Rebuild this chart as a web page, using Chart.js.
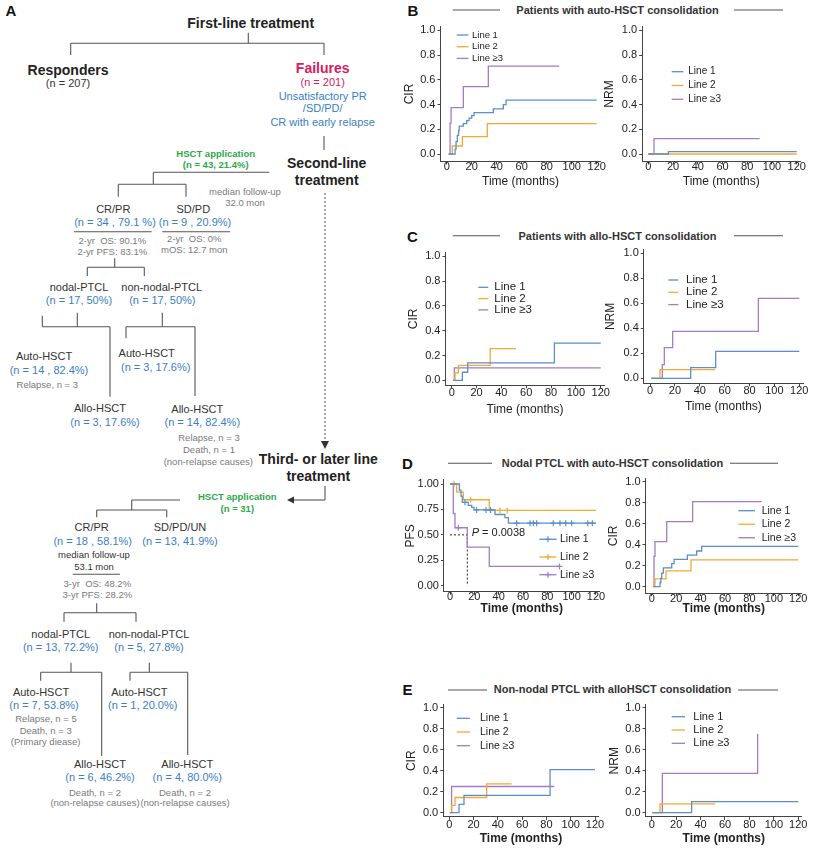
<!DOCTYPE html>
<html>
<head>
<meta charset="utf-8">
<script src="https://cdn.jsdelivr.net/npm/chart.js@4.4.1/dist/chart.umd.min.js"></script>
<style>
  body { margin: 0; background: #fff; font-family: "Liberation Sans", Arial, sans-serif; }
  #page { position: relative; width: 816px; height: 852px; overflow: hidden; background: #fff; }
  #page canvas, #page svg { position: absolute; }
  .t { position: absolute; transform: translate(-50%, -50%); white-space: pre; line-height: 1; }
  .h { font-size: 14px; font-weight: bold; color: #222; }
  .m { font-size: 11px; color: #333; }
  .b { font-size: 11px; color: #3b7dc6; }
  .s { font-size: 9.5px; color: #7a7a7a; }
  .k { font-size: 9.5px; color: #333; }
  .g { font-size: 9.5px; font-weight: bold; color: #2ca84a; }
  .r { color: #d81b5c; }
  .p { font-size: 15px; font-weight: bold; color: #111; }
  .pt { font-size: 11px; font-weight: bold; color: #333; }
</style>
</head>
<body>
<div id="page"></div>
<script>
// ---- shared ticks / labels
const timeTicks = [0, 20, 40, 60, 80, 100, 120];
const cirTicks = [0, 0.2, 0.4, 0.6, 0.8, 1.0];
const pfsTicks = [0, 0.25, 0.5, 0.75, 1.0];
const lineLabels = ['Line 1', 'Line 2', 'Line ≥3'];
const lineColors = ['#5a8fcb', '#f5a836', '#a07dc6'];

// ---- B: auto-HSCT consolidation
const bCirT1 = [2, 6.7, 7.5, 8.5, 9.5, 10, 13.3, 16, 17.9, 20, 21.9, 37.3, 45.3, 47.5, 120];
const bCirV1 = [0, 0.04, 0.10, 0.15, 0.19, 0.225, 0.245, 0.27, 0.29, 0.31, 0.335, 0.365, 0.40, 0.435, 0.435];
const bCirT2 = [2, 4.5, 12.5, 32.5, 120];
const bCirV2 = [0, 0.065, 0.14, 0.245, 0.245];
const bCirT3 = [1.3, 2.7, 3.5, 13.3, 33.3, 90];
const bCirV3 = [0, 0.25, 0.375, 0.545, 0.71, 0.71];
const bNrmT1 = [0, 16.2, 120];
const bNrmV1 = [0, 0.02, 0.02];
const bNrmT2 = [0, 120];
const bNrmV2 = [0, 0];
const bNrmT3 = [0, 4.6, 90];
const bNrmV3 = [0, 0.125, 0.125];

// ---- C: allo-HSCT consolidation
const cCirT1 = [1, 8.6, 12.9, 82.7, 120];
const cCirV1 = [0, 0.065, 0.14, 0.30, 0.30];
const cCirT2 = [2, 2.7, 5.4, 31, 51.8];
const cCirV2 = [0, 0.06, 0.12, 0.255, 0.255];
const cCirT3 = [1, 2.1, 120];
const cCirV3 = [0, 0.10, 0.10];
const cNrmT1 = [1, 32.7, 52.8, 120];
const cNrmV1 = [0, 0.085, 0.215, 0.215];
const cNrmT2 = [1, 8, 52.3];
const cNrmV2 = [0, 0.07, 0.07];
const cNrmT3 = [1, 9.9, 11.5, 18.2, 87.1, 120];
const cNrmV3 = [0, 0.11, 0.245, 0.375, 0.64, 0.64];

// ---- D: nodal PTCL with auto-HSCT
const dPfsT1 = [0, 7.7, 9, 10.1, 15, 17.8, 19.7, 37, 45.2, 48, 120];
const dPfsV1 = [1, 0.94, 0.88, 0.82, 0.79, 0.77, 0.745, 0.70, 0.67, 0.615, 0.615];
const dCenT1 = [12.3, 21.9, 29.6, 33.4, 54.8, 65.8, 68.5, 71.2, 84.9, 90.4, 95.1, 100, 113.2, 117];
const dCenV1 = [0.82, 0.745, 0.745, 0.745, 0.615, 0.615, 0.615, 0.615, 0.615, 0.615, 0.615, 0.615, 0.615, 0.615];
const dPfsT2 = [0, 5.5, 11, 32.3, 120];
const dPfsV2 = [1, 0.92, 0.845, 0.74, 0.74];
const dCenT2 = [3.3, 17, 41, 47];
const dCenV2 = [1, 0.845, 0.74, 0.74];
const dPfsT3 = [0, 2.7, 4.1, 14.2, 32.3, 90];
const dPfsV3 = [1, 0.71, 0.57, 0.38, 0.19, 0.19];
const dCenT3 = [6.8, 90];
const dCenV3 = [0.57, 0.19];
const dMedT = [0, 14.2, 14.2];
const dMedV = [0.5, 0.5, 0];
const dCirT1 = [2, 6.8, 7.5, 8.2, 9.5, 16.4, 18.3, 29.2, 36.8, 40.9, 120];
const dCirV1 = [0, 0.04, 0.08, 0.13, 0.18, 0.22, 0.26, 0.30, 0.34, 0.385, 0.385];
const dCirT2 = [2, 2.7, 11.7, 32.2, 120];
const dCirV2 = [0, 0.075, 0.15, 0.255, 0.255];
const dCirT3 = [1, 1.9, 2.7, 12.3, 33.5, 90];
const dCirV3 = [0, 0.29, 0.43, 0.62, 0.81, 0.81];

// ---- E: non-nodal PTCL with allo-HSCT
const eCirT1 = [0.5, 8, 12.1, 83, 120];
const eCirV1 = [0, 0.08, 0.165, 0.41, 0.41];
const eCirT2 = [0.5, 1.9, 4.7, 30.8, 51.4];
const eCirV2 = [0, 0.07, 0.145, 0.275, 0.275];
const eCirT3 = [0.5, 1.9, 86.5];
const eCirV3 = [0, 0.25, 0.25];
const eNrmT1 = [0.5, 32.7, 120];
const eNrmV1 = [0, 0.105, 0.105];
const eNrmT2 = [0.5, 6.8, 51.8];
const eNrmV2 = [0, 0.085, 0.085];
const eNrmT3 = [0.5, 8.7, 86.7];
const eNrmV3 = [0, 0.375, 0.75];

const page = document.getElementById('page');
Chart.defaults.font.family = '"Liberation Sans", Arial, sans-serif';

// ---- panel A flowchart text
const flowText = [
  [250.7, 22.7, 'First-line treatment', 'h'],
  [68, 70, 'Responders', 'h'],
  [68, 83, '(n = 207)', 'm'],
  [322.7, 67.7, 'Failures', 'h r'],
  [322.7, 81.7, '(n = 201)', 'm r'],
  [322.7, 95.7, 'Unsatisfactory PR', 'b'],
  [322.7, 108.3, '/SD/PD/', 'b'],
  [322.7, 121.7, 'CR with early relapse', 'b'],
  [215.7, 154, 'HSCT application', 'g'],
  [215.7, 165, '(n = 43, 21.4%)', 'g'],
  [326.7, 163.3, 'Second-line', 'h'],
  [326.7, 180, 'treatment', 'h'],
  [245, 191.7, 'median follow-up', 's'],
  [245, 202.7, '32.0 mon', 's'],
  [113.3, 209.3, 'CR/PR', 'm'],
  [115, 222.3, '(n = 34 , 79.1 %)', 'b'],
  [193.3, 209.3, 'SD/PD', 'm'],
  [195, 222.3, '(n = 9 , 20.9%)', 'b'],
  [112.3, 240.7, '2-yr  OS: 90.1%', 's'],
  [112.3, 251.7, '2-yr PFS: 83.1%', 's'],
  [194.3, 239, '2-yr  OS: 0%', 's'],
  [194.3, 250, 'mOS: 12.7 mon', 's'],
  [79, 286.7, 'nodal-PTCL', 'm'],
  [79, 300, '(n = 17, 50%)', 'b'],
  [161.7, 286.7, 'non-nodal-PTCL', 'm'],
  [162.3, 300, '(n = 17, 50%)', 'b'],
  [44, 355.7, 'Auto-HSCT', 'm'],
  [49, 370, '(n = 14 , 82.4%)', 'b'],
  [47.3, 384.7, 'Relapse, n = 3', 's'],
  [146.7, 353.3, 'Auto-HSCT', 'm'],
  [155.7, 366.7, '(n = 3, 17.6%)', 'b'],
  [100, 408.3, 'Allo-HSCT', 'm'],
  [105, 421.7, '(n = 3, 17.6%)', 'b'],
  [197.3, 409, 'Allo-HSCT', 'm'],
  [202.3, 422.3, '(n = 14, 82.4%)', 'b'],
  [209, 438.3, 'Relapse, n = 3', 's'],
  [209, 450, 'Death, n = 1', 's'],
  [208.3, 462.3, '(non-relapse causes)', 's'],
  [318.3, 459, 'Third- or later line', 'h'],
  [318.3, 475.7, 'treatment', 'h'],
  [237.3, 496.7, 'HSCT application', 'g'],
  [237.3, 509, '(n = 31)', 'g'],
  [91.7, 527.3, 'CR/PR', 'm'],
  [92.7, 540.7, '(n = 18 , 58.1%)', 'b'],
  [180, 527.3, 'SD/PD/UN', 'm'],
  [180, 540.7, '(n = 13, 41.9%)', 'b'],
  [94, 555, 'median follow-up', 'k'],
  [94, 566.7, '53.1 mon', 'k'],
  [97.3, 584, '3-yr  OS: 48.2%', 's'],
  [97.3, 595, '3-yr PFS: 28.2%', 's'],
  [60.7, 634, 'nodal-PTCL', 'm'],
  [60.7, 646.7, '(n = 13, 72.2%)', 'b'],
  [149, 634, 'non-nodal-PTCL', 'm'],
  [149, 646.7, '(n = 5, 27.8%)', 'b'],
  [41, 691.7, 'Auto-HSCT', 'm'],
  [44, 705, '(n = 7, 53.8%)', 'b'],
  [46, 719.3, 'Relapse, n = 5', 's'],
  [45.7, 730.7, 'Death, n = 3', 's'],
  [45.7, 742.3, '(Primary diease)', 's'],
  [139.3, 691.7, 'Auto-HSCT', 'm'],
  [142.7, 705, '(n = 1, 20.0%)', 'b'],
  [100, 764, 'Allo-HSCT', 'm'],
  [100, 777.3, '(n = 6, 46.2%)', 'b'],
  [95, 792.7, 'Death, n = 2', 's'],
  [95, 803.3, '(non-relapse causes)', 's'],
  [187.3, 764, 'Allo-HSCT', 'm'],
  [187.3, 777.3, '(n = 4, 80.0%)', 'b'],
  [185, 792.7, 'Death, n = 2', 's'],
  [185, 803.3, '(non-relapse causes)', 's'],
  // panel letters and titles
  [11, 10, 'A', 'p'],
  [413, 9.5, 'B', 'p'],
  [412.5, 235.5, 'C', 'p'],
  [407.5, 462.5, 'D', 'p'],
  [407.5, 689, 'E', 'p'],
  [617.5, 9.5, 'Patients with auto-HSCT consolidation', 'pt'],
  [617.5, 235.7, 'Patients with allo-HSCT consolidation', 'pt'],
  [612.5, 463, 'Nodal PTCL with auto-HSCT consolidation', 'pt'],
  [612.5, 689, 'Non-nodal PTCL with alloHSCT consolidation', 'pt'],
];

const flowLines = [
  [248.3, 32.7, 248.3, 43.3], [70.7, 43.3, 324, 43.3], [70.7, 43.3, 70.7, 55], [324, 43.3, 324, 55],
  [324, 136, 324, 150],
  [153.3, 172.3, 269.3, 172.3], [153.3, 172.3, 153.3, 184.3], [118.3, 184.3, 186, 184.3],
  [118.3, 184.3, 118.3, 196.7], [186, 184.3, 186, 196.7],
  [74, 231.7, 151.7, 231.7], [162.3, 231.7, 230, 231.7],
  [114.7, 258.3, 114.7, 267.3], [87.3, 267.3, 144.3, 267.3], [87.3, 267.3, 87.3, 276], [144.3, 267.3, 144.3, 276],
  [77.3, 312.7, 77.3, 326.7], [42.3, 326.7, 110, 326.7], [42.3, 315.7, 42.3, 326.7], [110, 326.7, 110, 396.7],
  [162.3, 312.7, 162.3, 326.7], [126, 326.7, 195, 326.7], [126, 326.7, 126, 338.3], [195, 326.7, 195, 396],
  [325, 486, 325, 500], [325, 500, 293, 500],
  [131.7, 500, 180, 500], [131.7, 500, 131.7, 510], [96.7, 510, 166.7, 510],
  [96.7, 510, 96.7, 517.3], [166.7, 510, 166.7, 517.3],
  [72.7, 574.3, 120, 574.3],
  [96.7, 603.3, 96.7, 612.7], [64, 612.7, 136, 612.7], [64, 612.7, 64, 621.7], [136, 612.7, 136, 621.7],
  [71, 662.7, 71, 672.3], [40.7, 672.3, 101.7, 672.3], [40.7, 672.3, 40.7, 680.7], [101.7, 672.3, 101.7, 756],
  [149.3, 662.7, 149.3, 672.3], [130, 672.3, 187.7, 672.3], [130, 672.3, 130, 680.7], [187.7, 672.3, 187.7, 755],
  // title rules for B-E
  [452.7, 10, 500, 10], [734, 10, 783, 10],
  [452.7, 235.7, 500, 235.7], [734, 235.7, 783, 235.7],
  [448, 463.3, 492, 463.3], [730, 463.3, 778, 463.3],
  [448, 690, 487, 690], [738, 690, 778, 690],
];

let svg = '<svg width="816" height="852" style="left:0;top:0" xmlns="http://www.w3.org/2000/svg">';
flowLines.forEach(([x1, y1, x2, y2]) => {
  svg += `<line x1="${x1}" y1="${y1}" x2="${x2}" y2="${y2}" stroke="#555" stroke-width="1.1"/>`;
});
svg += '<line x1="325" y1="193" x2="325" y2="441" stroke="#555" stroke-width="1" stroke-dasharray="2,2"/>';
svg += '<polygon points="321,441 329,441 325,449" fill="#333"/>';
svg += '<polygon points="294,496.5 294,503.5 287,500" fill="#333"/>';
svg += '</svg>';
page.insertAdjacentHTML('beforeend', svg);

flowText.forEach(([x, y, txt, cls]) => {
  const d = document.createElement('div');
  d.className = 't ' + cls;
  d.style.left = x + 'px';
  d.style.top = y + 'px';
  d.textContent = txt;
  page.appendChild(d);
});

// ---- step-curve charts
function kmChart(g) {
  const kx = (g.px120 - g.px0) / 120, ky = g.py0 - g.py1;
  const xMin = -5, xMax = 123, yMin = g.yMin || -0.06, yMax = g.yMax || 1.03;
  const aL = g.px0 + xMin * kx, aR = g.px0 + xMax * kx;
  const aT = g.py0 - yMax * ky, aB = g.py0 - yMin * ky;
  const cL = Math.floor(g.yTitleX - 7.2), cT = Math.floor(aT - 8);
  const cW = Math.ceil(aR + 14 - cL), cH = Math.round(g.xTitleY + 7.2 - cT);
  const yW = aL - cL, xH = cT + cH - aB;

  const cv = document.createElement('canvas');
  cv.width = cW; cv.height = cH;
  cv.style.left = cL + 'px'; cv.style.top = cT + 'px';
  page.appendChild(cv);

  const datasets = [];
  g.series.forEach((s, i) => {
    datasets.push({
      type: 'line', data: s.t.map((x, j) => ({ x, y: s.v[j] })),
      borderColor: lineColors[i], borderWidth: 1.3, pointRadius: 0, stepped: 'before', fill: false
    });
    if (s.ct) datasets.push({
      type: 'scatter', data: s.ct.map((x, j) => ({ x, y: s.cv[j] })),
      pointStyle: 'cross', pointRadius: 3, borderColor: lineColors[i], borderWidth: 1.2, backgroundColor: lineColors[i]
    });
  });
  if (g.median) datasets.push({
    type: 'line', data: g.median.t.map((x, j) => ({ x, y: g.median.v[j] })),
    borderColor: '#222', borderWidth: 1, borderDash: [2, 2], pointRadius: 0, fill: false
  });

  const lg = g.legend;
  const legendPlugin = {
    id: 'inLegend',
    afterDraw(chart) {
      const ctx = chart.ctx;
      ctx.save();
      lineLabels.forEach((lab, i) => {
        const y = lg.y + i * lg.dy - cT, x = lg.x - cL;
        ctx.strokeStyle = lineColors[i]; ctx.lineWidth = 1.3;
        ctx.beginPath(); ctx.moveTo(x, y); ctx.lineTo(x + lg.len, y); ctx.stroke();
        if (lg.cross) {
          const mx = x + lg.len / 2;
          ctx.lineWidth = 1.2;
          ctx.beginPath(); ctx.moveTo(mx - 3, y); ctx.lineTo(mx + 3, y);
          ctx.moveTo(mx, y - 3); ctx.lineTo(mx, y + 3); ctx.stroke();
        }
        ctx.fillStyle = '#222';
        ctx.font = lg.size + 'px "Liberation Sans", Arial, sans-serif';
        ctx.textBaseline = 'middle';
        ctx.fillText(lab, lg.tx - cL, y);
      });
      if (g.pText) {
        const px = chart.scales.x.getPixelForValue(g.pText.x);
        const py = chart.scales.y.getPixelForValue(g.pText.y);
        ctx.fillStyle = '#222';
        ctx.textBaseline = 'middle';
        ctx.font = 'italic 11px "Liberation Sans", Arial, sans-serif';
        ctx.fillText('P', px, py);
        const w = ctx.measureText('P').width;
        ctx.font = '11px "Liberation Sans", Arial, sans-serif';
        ctx.fillText(' = 0.0038', px + w, py);
      }
      ctx.restore();
    }
  };

  const yTicks = g.yTicks || cirTicks;
  const digits = g.yDigits || 1;
  new Chart(cv, {
    type: 'line',
    data: { datasets },
    options: {
      responsive: false, animation: false, events: [],
      layout: { autoPadding: false, padding: { left: 0, top: aT - cT, right: cL + cW - aR, bottom: 0 } },
      plugins: { legend: { display: false }, tooltip: { enabled: false } },
      scales: {
        x: {
          type: 'linear', position: 'bottom', min: xMin, max: xMax,
          afterBuildTicks: s => { s.ticks = timeTicks.map(v => ({ value: v })); },
          afterFit: s => { s.height = xH; },
          grid: { drawOnChartArea: false, drawTicks: true, tickLength: 3, color: '#444' },
          border: { display: true, color: '#444', width: 1 },
          ticks: { font: { size: 11 }, color: '#222', padding: g.xPad, maxRotation: 0 },
          title: { display: true, text: 'Time (months)', color: '#222', padding: 0,
                   font: { size: 12, weight: g.boldX ? 'bold' : 'normal' } }
        },
        y: {
          type: 'linear', position: 'left', min: yMin, max: yMax,
          afterBuildTicks: s => { s.ticks = yTicks.map(v => ({ value: v })); },
          afterFit: s => { s.width = yW; },
          grid: { drawOnChartArea: false, drawTicks: true, tickLength: 3, color: '#444' },
          border: { display: true, color: '#444', width: 1 },
          ticks: { font: { size: 11 }, color: '#222', padding: 2, callback: v => v.toFixed(digits) },
          title: { display: true, text: g.yTitle, color: '#222', padding: 0, font: { size: 12 } }
        }
      }
    },
    plugins: [legendPlugin]
  });
}

kmChart({ px0: 446.7, px120: 596.7, py0: 154, py1: 30, yTitleX: 410, xTitleY: 181.7, yTitle: 'CIR', xPad: -4,
  series: [{ t: bCirT1, v: bCirV1 }, { t: bCirT2, v: bCirV2 }, { t: bCirT3, v: bCirV3 }],
  legend: { x: 456.7, tx: 472, y: 35, dy: 11.7, len: 11.7, size: 9.5 } });
kmChart({ px0: 648.3, px120: 796.7, py0: 154, py1: 30, yTitleX: 609.3, xTitleY: 181.7, yTitle: 'NRM', xPad: -4,
  series: [{ t: bNrmT1, v: bNrmV1 }, { t: bNrmT2, v: bNrmV2 }, { t: bNrmT3, v: bNrmV3 }],
  legend: { x: 671.7, tx: 688.3, y: 71.7, dy: 13.8, len: 11.7, size: 10 } });
kmChart({ px0: 451.7, px120: 600.7, py0: 380.3, py1: 256, yTitleX: 413.3, xTitleY: 409.3, yTitle: 'CIR',
  yMin: -0.04, xPad: -2,
  series: [{ t: cCirT1, v: cCirV1 }, { t: cCirT2, v: cCirV2 }, { t: cCirT3, v: cCirV3 }],
  legend: { x: 478.3, tx: 494.3, y: 287.3, dy: 11.3, len: 10, size: 11.5 } });
kmChart({ px0: 650, px120: 799.3, py0: 378.3, py1: 253.3, yTitleX: 611, xTitleY: 406.5, yTitle: 'NRM',
  yMin: -0.04, xPad: -2,
  series: [{ t: cNrmT1, v: cNrmV1 }, { t: cNrmT2, v: cNrmV2 }, { t: cNrmT3, v: cNrmV3 }],
  legend: { x: 668.3, tx: 686, y: 280, dy: 12.3, len: 10, size: 11.5 } });
kmChart({ px0: 450, px120: 596, py0: 585.7, py1: 484, yTitleX: 411, xTitleY: 608.5, yTitle: 'PFS', xPad: -4,
  yMax: 1.04, yTicks: pfsTicks, yDigits: 2, boldX: true,
  series: [{ t: dPfsT1, v: dPfsV1, ct: dCenT1, cv: dCenV1 }, { t: dPfsT2, v: dPfsV2, ct: dCenT2, cv: dCenV2 },
           { t: dPfsT3, v: dPfsV3, ct: dCenT3, cv: dCenV3 }],
  median: { t: dMedT, v: dMedV }, pText: { x: 17.8, y: 0.52 },
  legend: { x: 539.3, tx: 560, y: 539.3, dy: 17.7, len: 17.3, size: 10.5, cross: true } });
kmChart({ px0: 651.7, px120: 798.3, py0: 586.7, py1: 481.7, yTitleX: 613.3, xTitleY: 608.5, yTitle: 'CIR', xPad: -4,
  boldX: true,
  series: [{ t: dCirT1, v: dCirV1 }, { t: dCirT2, v: dCirV2 }, { t: dCirT3, v: dCirV3 }],
  legend: { x: 738.3, tx: 761.7, y: 510.7, dy: 13.5, len: 16.7, size: 10.5 } });
kmChart({ px0: 449.3, px120: 595, py0: 812.7, py1: 707.3, yTitleX: 411.7, xTitleY: 839, yTitle: 'CIR',
  yMin: -0.04, xPad: -2, boldX: true,
  series: [{ t: eCirT1, v: eCirV1 }, { t: eCirT2, v: eCirV2 }, { t: eCirT3, v: eCirV3 }],
  legend: { x: 456.7, tx: 480, y: 718.3, dy: 13.7, len: 13.3, size: 10.5 } });
kmChart({ px0: 651.7, px120: 798.3, py0: 812.7, py1: 707.3, yTitleX: 615, xTitleY: 839, yTitle: 'NRM',
  yMin: -0.04, xPad: -2, boldX: true,
  series: [{ t: eNrmT1, v: eNrmV1 }, { t: eNrmT2, v: eNrmV2 }, { t: eNrmT3, v: eNrmV3 }],
  legend: { x: 671.7, tx: 693.3, y: 716.7, dy: 13.3, len: 13.3, size: 11 } });
</script>
</body>
</html>
